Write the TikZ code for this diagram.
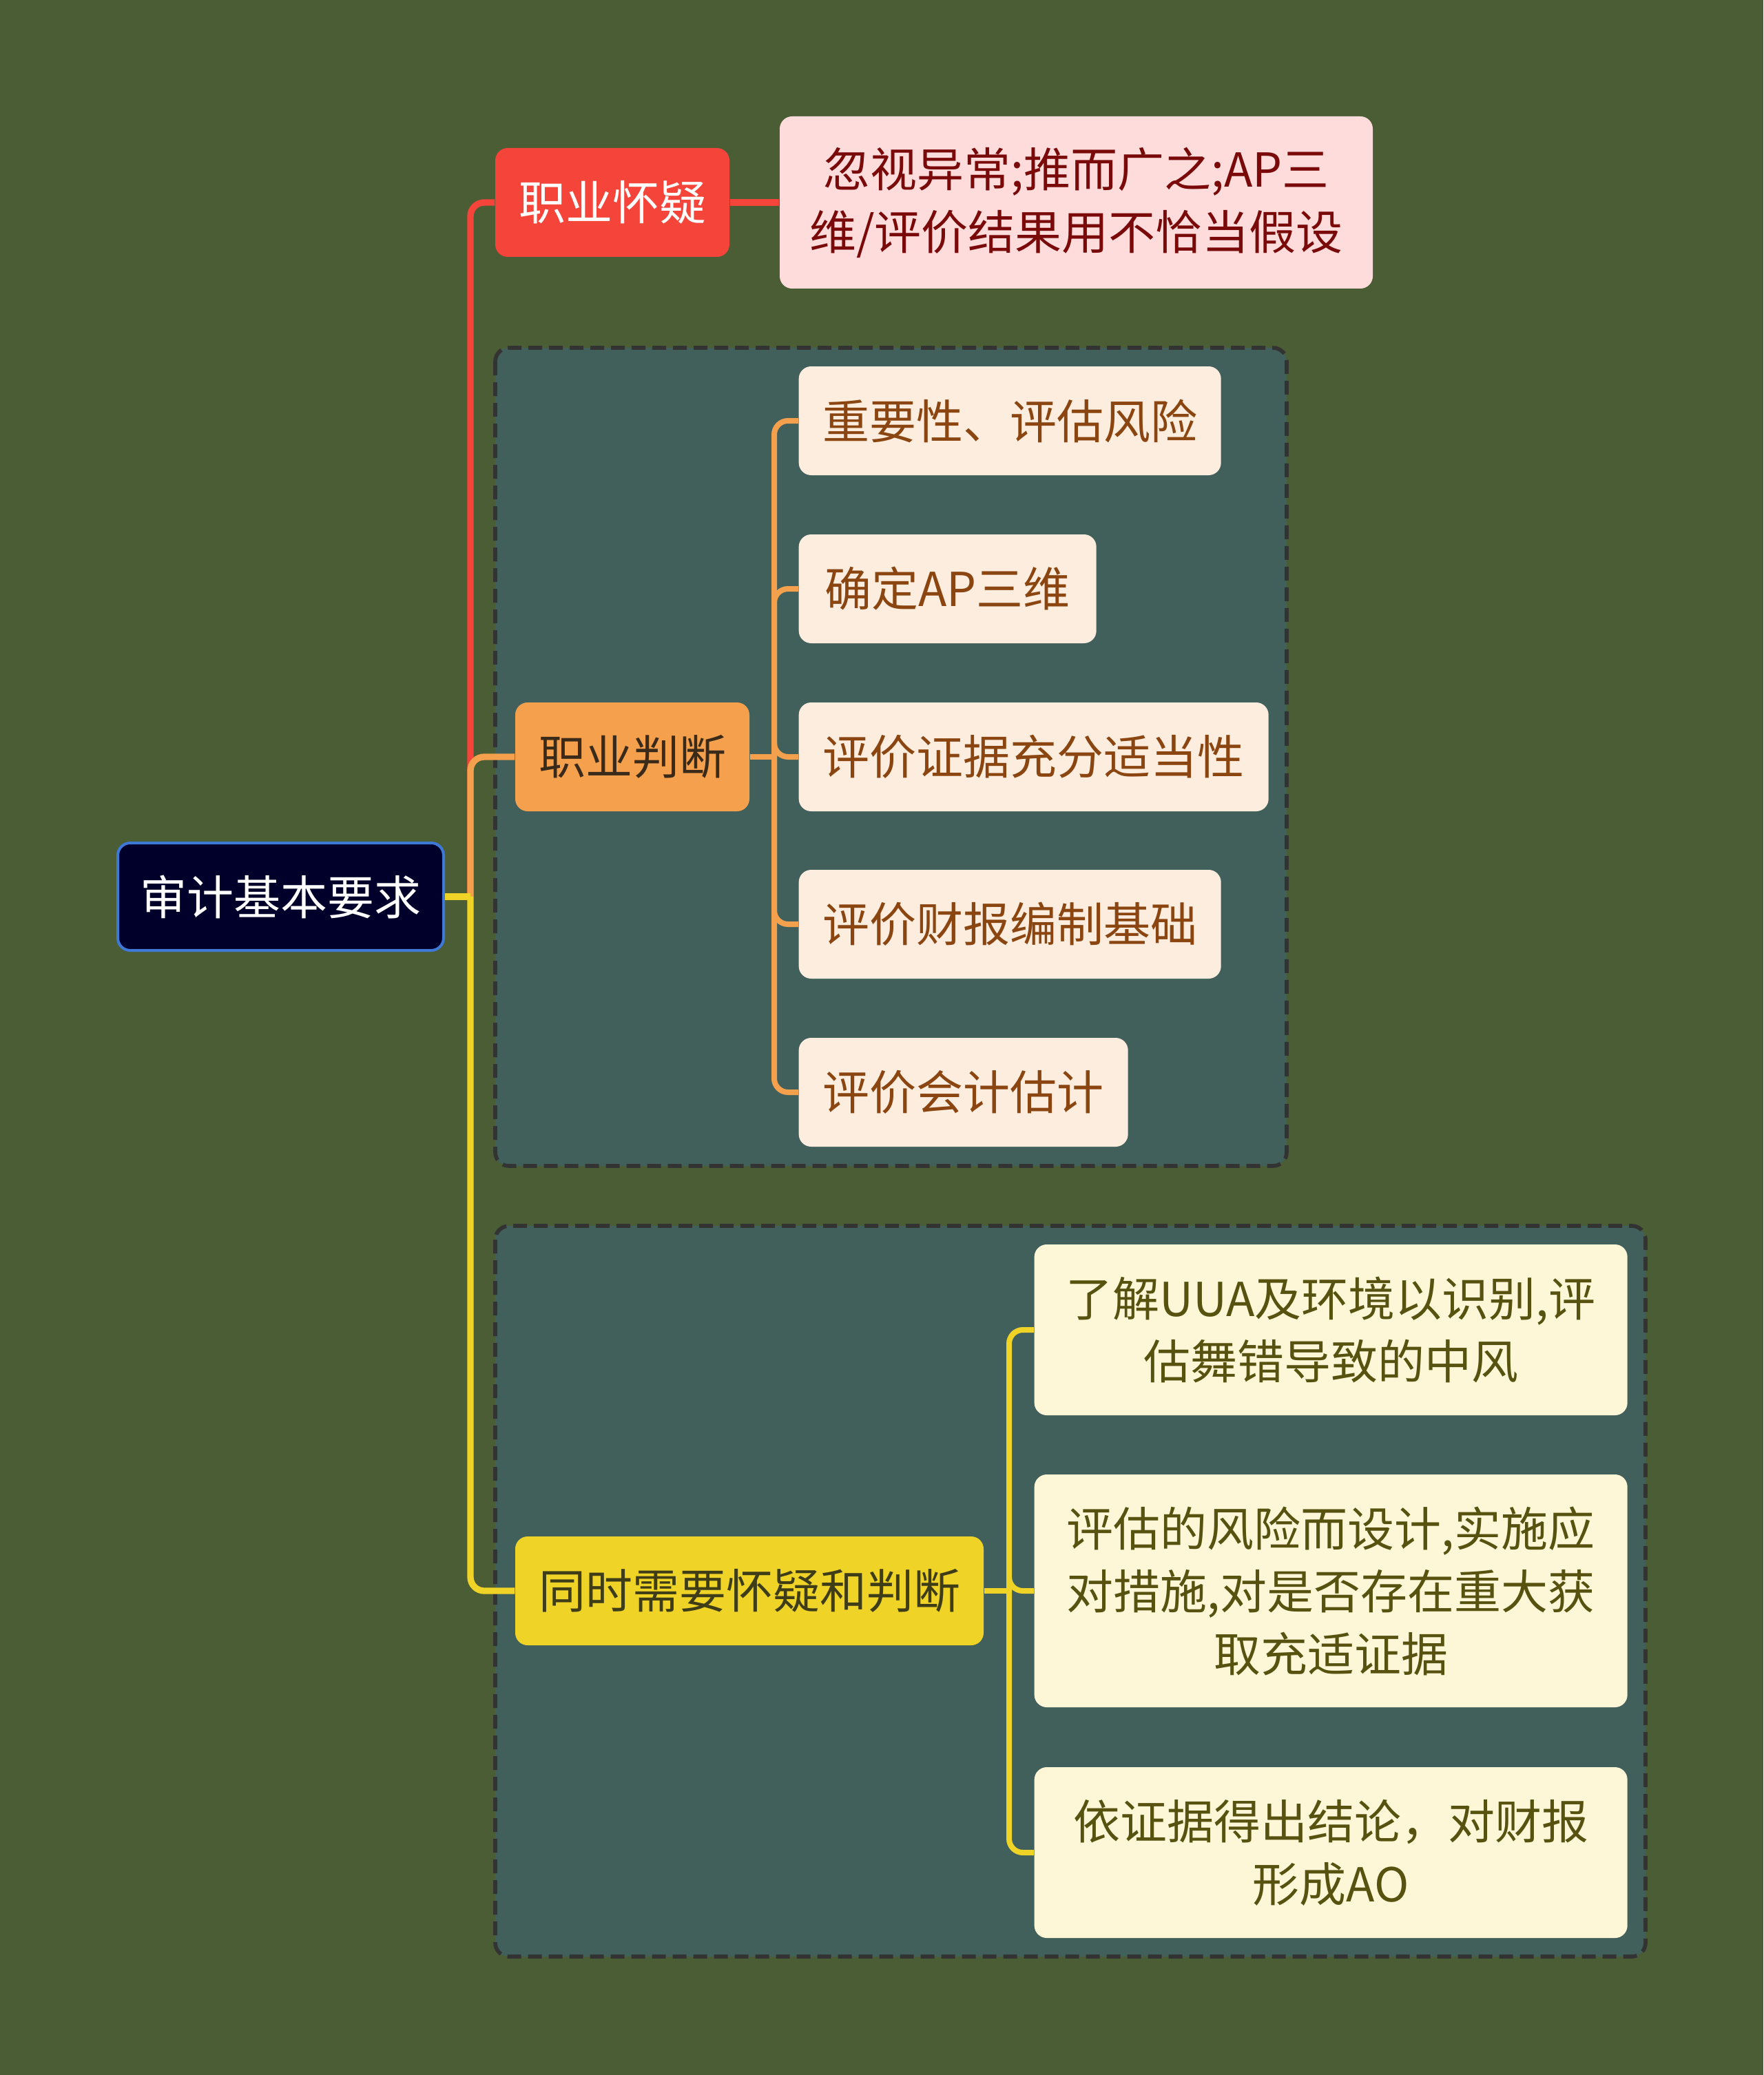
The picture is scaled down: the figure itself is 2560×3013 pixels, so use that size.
\documentclass[tikz,border=0pt]{standalone}
\usepackage{fontspec}
\setmainfont{Noto Sans CJK SC}
\definecolor{bg}{HTML}{4A5D34}
\definecolor{boxfill}{HTML}{41605C}
\definecolor{boxline}{HTML}{333333}
\definecolor{rootfill}{HTML}{00002A}
\definecolor{rootline}{HTML}{3F79D8}
\definecolor{redc}{HTML}{F5443A}
\definecolor{redleaf}{HTML}{FFDCDC}
\definecolor{redtext}{HTML}{7A0A0A}
\definecolor{orc}{HTML}{F5A04C}
\definecolor{orleaf}{HTML}{FDEDDE}
\definecolor{ortext}{HTML}{8A4510}
\definecolor{ornodetext}{HTML}{3A2A1A}
\definecolor{yec}{HTML}{EFD427}
\definecolor{yeleaf}{HTML}{FDF7D8}
\definecolor{yetext}{HTML}{57520F}
\definecolor{yenodetext}{HTML}{3F3D18}
\tikzset{
  px/.style={x=0.3pt,y=-0.3pt},
  base/.style={rounded corners=5.4pt, inner sep=0pt, align=center,
     font=\fontsize{20.4pt}{27.3pt}\selectfont},
  rootbox/.style={base, fill=rootfill, draw=rootline, line width=1.2pt, text=white},
  redbox/.style={base, fill=redc, text=white},
  redleafbox/.style={base, fill=redleaf, text=redtext},
  orbox/.style={base, fill=orc, text=ornodetext},
  orleafbox/.style={base, fill=orleaf, text=ortext},
  yebox/.style={base, fill=yec, text=yenodetext},
  yeleafbox/.style={base, fill=yeleaf, text=yetext},
  groupbox/.style={fill=boxfill, draw=boxline, line width=1.7pt, dash pattern=on 6pt off 3pt, rounded corners=6pt},
  mainline/.style={line width=2.8pt, rounded corners=6pt},
  subline/.style={line width=2.4pt, rounded corners=6pt},
}
\begin{document}
\begin{tikzpicture}[px]
\fill[bg] (0,0) rectangle (2560,3013);
\useasboundingbox (0,0) rectangle (2560,3013);
% group boxes
\draw[groupbox] (719,505) rectangle (1868,1693);
\draw[groupbox] (719,1780) rectangle (2389,2841);
% trunk coordinates
\coordinate (t1) at (683,0);
\coordinate (t2) at (1124,0);
\coordinate (t3) at (1465,0);
% nodes
\node[rootbox, minimum width=473*0.3pt, minimum height=156*0.3pt] (root) at (407.5,1302) {审计基本要求};
\node[redbox, minimum width=340*0.3pt, minimum height=158*0.3pt] (sk) at (889,294) {职业怀疑};
\node[redleafbox, minimum width=861*0.3pt, minimum height=250*0.3pt] (skl) at (1562.5,294) {忽视异常;推而广之;AP三\\维/评价结果用不恰当假设};
\node[orbox, minimum width=340*0.3pt, minimum height=158*0.3pt] (jp) at (918,1099) {职业判断};
\node[orleafbox, minimum width=613*0.3pt, minimum height=158*0.3pt, anchor=west] (o1) at (1159,611) {重要性、评估风险};
\node[orleafbox, minimum width=432*0.3pt, minimum height=158*0.3pt, anchor=west] (o2) at (1159,855) {确定AP三维};
\node[orleafbox, minimum width=682*0.3pt, minimum height=158*0.3pt, anchor=west] (o3) at (1159,1099) {评价证据充分适当性};
\node[orleafbox, minimum width=613*0.3pt, minimum height=158*0.3pt, anchor=west] (o4) at (1159,1342) {评价财报编制基础};
\node[orleafbox, minimum width=478*0.3pt, minimum height=158*0.3pt, anchor=west] (o5) at (1159,1586) {评价会计估计};
\node[yebox, minimum width=680*0.3pt, minimum height=158*0.3pt] (both) at (1088,2310) {同时需要怀疑和判断};
\node[yeleafbox, minimum width=861*0.3pt, minimum height=248*0.3pt, anchor=west] (y1) at (1501,1931) {了解UUA及环境以识别,评\\估舞错导致的中风};
\node[yeleafbox, minimum width=861*0.3pt, minimum height=338*0.3pt, anchor=west] (y2) at (1501,2310) {评估的风险而设计,实施应\\对措施,对是否存在重大获\\取充适证据};
\node[yeleafbox, minimum width=861*0.3pt, minimum height=248*0.3pt, anchor=west] (y3) at (1501,2690) {依证据得出结论，对财报\\形成AO};
% connectors
\draw[mainline, redc] (root.east -| t1) |- (sk.west);
\draw[line width=2.8pt, redc] (sk.east) -- (skl.west);
\draw[mainline, orc] (root.east -| t1) |- (jp.west);
\draw[mainline, yec] (root.east -| t1) |- (both.west);
\draw[line width=2.8pt, yec] (root.east) -- (root.east -| t1);
\foreach \n in {o1,o2,o3,o4,o5}
  \draw[subline, orc] (jp.east -| t2) |- (\n.west);
\draw[line width=2.4pt, orc] (jp.east) -- (jp.east -| t2);
\foreach \n in {y1,y2,y3}
  \draw[subline, yec] (both.east -| t3) |- (\n.west);
\draw[line width=2.4pt, yec] (both.east) -- (both.east -| t3);
\end{tikzpicture}
\end{document}
